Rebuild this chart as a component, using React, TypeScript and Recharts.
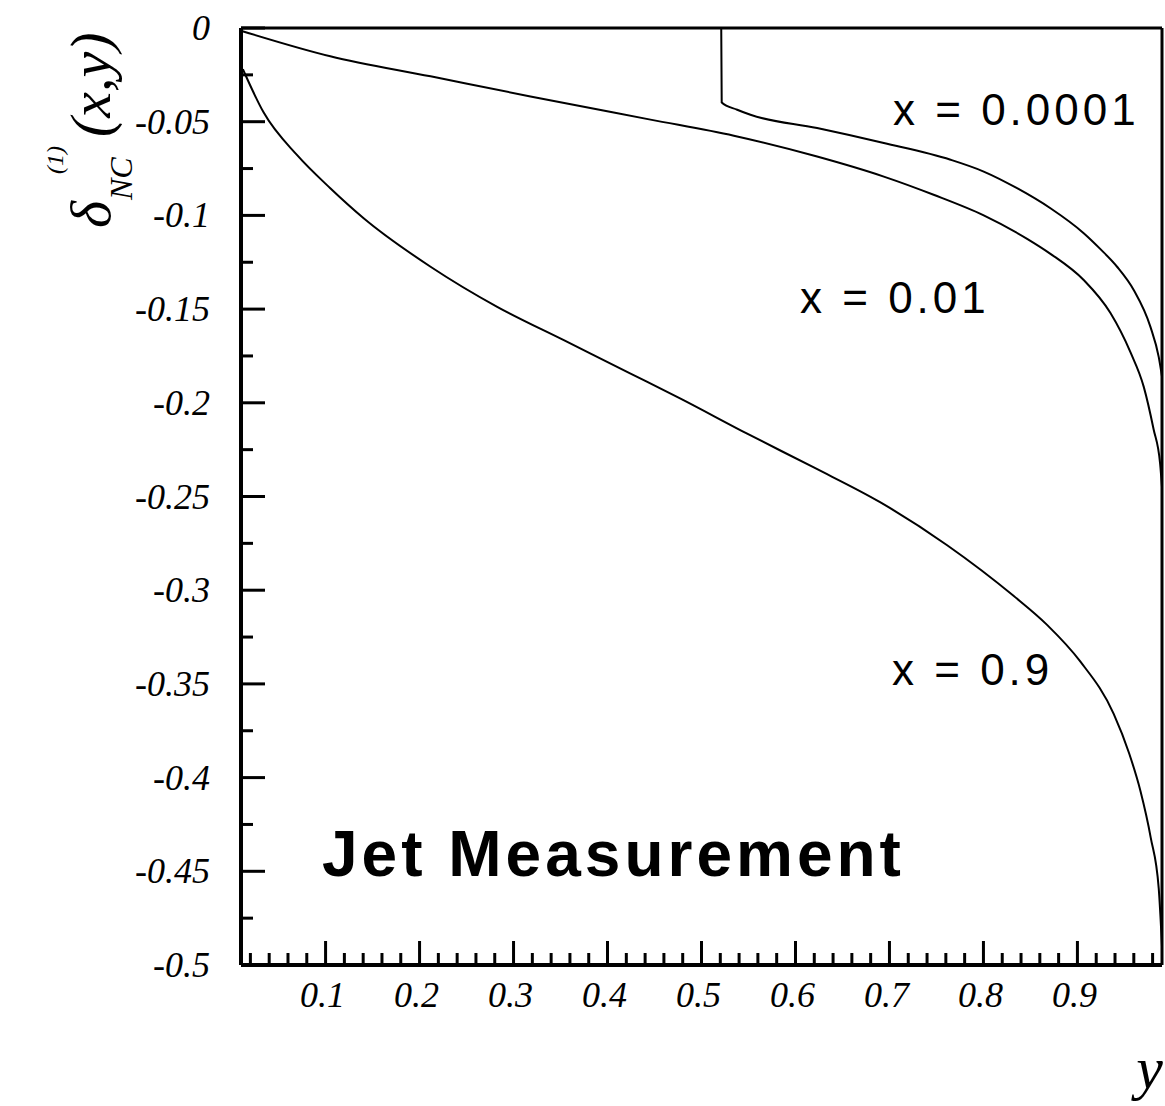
import { LineChart, Line, XAxis, YAxis } from "recharts";

// y (horizontal) and delta (vertical), one pair of arrays per curve
const yX0001 = [0.521, 0.5215, 0.538, 0.5521, 0.623, 0.694, 0.765, 0.8003, 0.8358, 0.8713, 0.9067, 0.9245, 0.9422, 0.9599, 0.9777, 0.9865, 0.99];
const dX0001 = [0, -0.0398, -0.0436, -0.0463, -0.0534, -0.0614, -0.0703, -0.0766, -0.0855, -0.0962, -0.1095, -0.118, -0.1274, -0.1398, -0.1595, -0.1755, -0.186];

const yX001 = [0.0115, 0.105, 0.2117, 0.318, 0.4457, 0.5344, 0.623, 0.694, 0.747, 0.8003, 0.8465, 0.8713, 0.9067, 0.935, 0.9564, 0.9706, 0.981, 0.988, 0.99];
const dX001 = [-0.0017, -0.0151, -0.0258, -0.0365, -0.0489, -0.0575, -0.0686, -0.0793, -0.089, -0.1, -0.1125, -0.1205, -0.1345, -0.152, -0.173, -0.1915, -0.214, -0.2325, -0.245];

const yX09 = [0.012, 0.034, 0.07, 0.105, 0.1405, 0.2117, 0.2826, 0.3535, 0.4245, 0.4777, 0.5486, 0.6195, 0.69, 0.7614, 0.832, 0.8677, 0.903, 0.9386, 0.955, 0.967, 0.978, 0.9865, 0.99];
const dX09 = [-0.022, -0.045, -0.068, -0.0855, -0.1015, -0.1274, -0.1488, -0.1666, -0.1844, -0.1978, -0.2165, -0.2345, -0.253, -0.276, -0.303, -0.3185, -0.338, -0.366, -0.387, -0.407, -0.432, -0.459, -0.49];

const xTickLabels = ["0.1", "0.2", "0.3", "0.4", "0.5", "0.6", "0.7", "0.8", "0.9"];
const yTickLabels = ["0", "-0.05", "-0.1", "-0.15", "-0.2", "-0.25", "-0.3", "-0.35", "-0.4", "-0.45", "-0.5"];

const toPoints = (ys: number[], ds: number[]) => ys.map((y, i) => ({ y, d: ds[i] }));

// minor ticks every 0.02 on y, every 0.025 on delta
const xTicks: number[] = [];
for (let k = 1; k <= 49; k++) xTicks.push(Math.round(k * 2) / 100);
const yTicks: number[] = [];
for (let k = 0; k <= 20; k++) yTicks.push(-Math.round(k * 25) / 1000);

const serif = "'Liberation Serif', 'DejaVu Serif', serif";
const sans = "'Liberation Sans', Arial, sans-serif";

const findLabel = (labels: string[], v: number) =>
  labels.find((l) => Math.abs(parseFloat(l) - v) < 1e-6);

const XTick = (props: any) => {
  const { x, y, payload } = props;
  const label = findLabel(xTickLabels, payload.value);
  return (
    <g>
      <line x1={x} x2={x} y1={y} y2={y - (label ? 24 : 12)} stroke="#000" strokeWidth={3} />
      {label && (
        <text x={x - 3} y={y + 42} textAnchor="middle" fontFamily={serif} fontStyle="italic" fontSize={36} fill="#000">
          {label}
        </text>
      )}
    </g>
  );
};

const YTick = (props: any) => {
  const { x, y, payload } = props;
  const label = findLabel(yTickLabels, payload.value);
  return (
    <g>
      <line x1={x} x2={x + (label ? 24 : 12)} y1={y} y2={y} stroke="#000" strokeWidth={3} />
      {label && (
        <text x={x - 31} y={y + 12} textAnchor="end" fontFamily={serif} fontStyle="italic" fontSize={36} fill="#000">
          {label}
        </text>
      )}
    </g>
  );
};

const noteStyle = { fontFamily: sans, fontSize: 44, letterSpacing: 4, fill: "#000" };

export default function App() {
  return (
    <div style={{ position: "absolute", left: 0, top: 0, width: 1165, height: 1106, background: "#fff" }}>
      <LineChart width={1165} height={1106} margin={{ top: 26, right: 1, bottom: 101, left: 201 }}>
        <XAxis
          dataKey="y"
          type="number"
          domain={[0.01, 0.99]}
          allowDataOverflow
          ticks={xTicks}
          interval={0}
          height={40}
          tickSize={0}
          tickMargin={0}
          tickLine={false}
          tick={<XTick />}
          axisLine={{ stroke: "#000", strokeWidth: 4 }}
        />
        <XAxis
          xAxisId="top"
          orientation="top"
          type="number"
          domain={[0.01, 0.99]}
          height={2}
          tick={false}
          tickLine={false}
          axisLine={{ stroke: "#000", strokeWidth: 3 }}
        />
        <YAxis
          type="number"
          domain={[-0.5, 0]}
          allowDataOverflow
          ticks={yTicks}
          interval={0}
          width={40}
          tickSize={0}
          tickMargin={0}
          tickLine={false}
          tick={<YTick />}
          axisLine={{ stroke: "#000", strokeWidth: 4 }}
        />
        <YAxis
          yAxisId="right"
          orientation="right"
          type="number"
          domain={[-0.5, 0]}
          width={2}
          tick={false}
          tickLine={false}
          axisLine={{ stroke: "#000", strokeWidth: 3 }}
        />
        <Line data={toPoints(yX0001, dX0001)} dataKey="d" type="monotone" stroke="#000" strokeWidth={2} dot={false} isAnimationActive={false} />
        <Line data={toPoints(yX001, dX001)} dataKey="d" type="monotone" stroke="#000" strokeWidth={2} dot={false} isAnimationActive={false} />
        <Line data={toPoints(yX09, dX09)} dataKey="d" type="monotone" stroke="#000" strokeWidth={2} dot={false} isAnimationActive={false} />

        <text x={893} y={125} {...noteStyle}>x = 0.0001</text>
        <text x={800} y={313} {...noteStyle}>x = 0.01</text>
        <text x={892} y={685} {...noteStyle}>x = 0.9</text>
        <text x={322} y={876} fontFamily={sans} fontWeight="bold" fontSize={64} letterSpacing={4} fill="#000">
          Jet Measurement
        </text>

        <g transform="translate(110, 228) rotate(-90)" fontFamily={serif} fontStyle="italic" fill="#000">
          <text x={0} y={0} fontSize={58}>δ</text>
          <text x={28} y={22} fontSize={32}>NC</text>
          <text x={54} y={-47} fontSize={24}>(1)</text>
          <text x={91} y={0} fontSize={58}>(x,y)</text>
        </g>
        <text x={1163} y={1088} textAnchor="end" fontFamily={serif} fontStyle="italic" fontSize={60} fill="#000">
          y
        </text>
      </LineChart>
    </div>
  );
}
